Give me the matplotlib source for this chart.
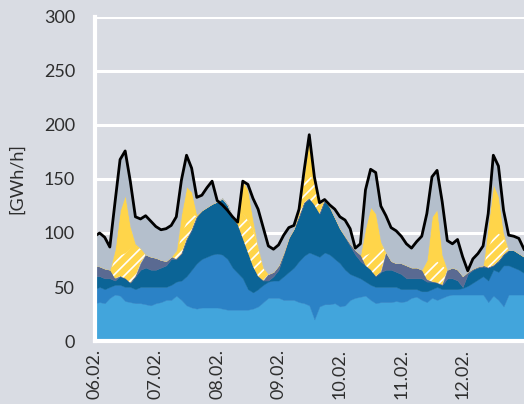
import numpy as np
import matplotlib
matplotlib.use("Agg")
import matplotlib.pyplot as plt

# hours since 06.02. 00:00, every 2 hours
hours = list(range(0, 169, 2))
day_ticks = [0, 24, 48, 72, 96, 120, 144]
day_labels = ["06.02.", "07.02.", "08.02.", "09.02.", "10.02.", "11.02.", "12.02."]

green = [1,1,1,1,1,1,1,1,1,1,1,1,1,1,1,1,1,0,0,1,1,1,0,0,1,1,1,1,0,0,
         1,1,1,1,1,1,1,1,1,1,1,1,1,1,1,1,1,1,1,1,1,1,1,0,1,1,1,1,1,1,
         1,1,1,1,1,1,1,1,1,1,0,0,0,0,0,0,1,0,0,0,0,0,0,0,0]
light_blue = [34,35,34,39,42,41,36,35,34,34,33,32,34,35,37,37,41,38,33,30,29,30,31,31,30,29,28,28,29,29,
              28,29,31,35,39,39,39,37,37,37,35,34,32,19,31,33,33,34,31,32,37,39,40,42,37,34,35,35,35,36,
              35,36,39,40,37,35,39,37,39,41,43,43,43,43,43,43,42,36,42,38,32,43,43,43,43]
mid_blue = [13,14,13,10,9,10,13,14,13,15,16,17,15,14,12,14,13,18,27,35,42,45,47,49,50,50,47,39,34,29,
            19,15,16,16,15,16,16,22,26,30,38,44,49,60,46,48,46,41,40,33,24,20,17,13,14,15,14,14,14,13,
            12,11,8,7,8,10,8,12,8,6,5,5,6,8,11,14,17,20,24,26,38,27,25,23,20]
dark_blue = [12,10,10,8,4,8,8,4,12,16,18,16,16,18,20,24,21,25,34,37,43,45,46,47,48,52,50,46,45,37,
             34,24,12,4,1,4,10,20,31,36,41,49,50,46,40,48,44,38,32,30,26,20,16,15,14,10,14,16,16,14,
             14,10,10,10,12,9,7,4,4,10,10,8,1,11,12,11,9,12,4,10,10,14,16,15,15]
slate = [10,9,9,8,2,0,0,0,0,6,12,12,11,7,4,2,0,0,0,0,0,0,0,0,0,0,0,0,0,0,
         0,0,0,0,6,4,4,2,1,0,0,0,0,0,0,0,0,0,0,1,2,4,6,0,0,0,0,16,8,8,
         10,12,10,10,8,2,0,0,0,8,10,10,10,2,1,1,1,0,0,0,0,0,0,0,0]
solar_hatched = [0,0,0,0,20,20,24,32,28,14,0,0,0,0,0,0,6,19,18,15,1,0,0,0,0,0,0,0,1,23,
                 30,34,27,12,0,0,0,0,0,0,3,22,23,22,8,0,0,0,0,0,0,0,0,10,16,26,26,0,0,0,
                 0,0,0,0,0,11,17,20,18,0,0,0,0,0,0,0,0,20,28,26,16,0,0,0,0]
solar = [0,0,0,0,7,41,53,20,2,0,0,0,0,0,0,0,2,18,31,20,1,0,0,0,0,0,0,0,1,30,
         28,9,0,0,0,0,0,0,0,0,2,5,33,2,1,0,0,0,0,0,0,0,0,25,42,32,2,0,0,0,
         0,0,0,0,0,7,43,48,10,0,0,0,0,0,0,0,0,20,47,34,4,0,0,0,0]
other = [27,31,29,21,43,47,41,42,25,27,36,33,29,28,30,29,31,31,29,22,16,14,18,21,1,0,0,1,0,0,
         5,20,35,37,26,21,19,16,9,3,2,3,3,2,1,1,2,8,11,15,14,2,10,35,35,38,33,34,31,30,
         25,20,18,24,31,43,37,36,49,27,22,28,18,1,9,12,18,10,27,28,21,14,13,14,7]
load = [97,100,96,87,128,168,176,148,115,113,116,111,106,103,104,107,115,149,172,160,133,135,142,148,130,126,121,115,110,148,
        145,132,122,105,88,85,89,98,105,107,122,158,191,152,128,131,126,122,115,112,104,86,90,140,159,156,125,116,105,102,
        97,90,86,92,97,118,152,158,129,93,90,94,78,65,76,81,88,118,172,162,121,98,97,95,85]

bg = "#d9dce3"
plt.rcParams["font.family"] = ["Lato", "DejaVu Sans"]
plt.rcParams["hatch.color"] = "white"
plt.rcParams["hatch.linewidth"] = 1.2

fig = plt.figure(figsize=(5.24, 4.04), dpi=100, facecolor=bg)
ax = fig.add_axes([94.5 / 524, 63 / 404, 1 - 94.5 / 524, 324 / 404], facecolor=bg)

x = np.array(hours)
layers = [
    (green, "#3f7f4a", None),
    (light_blue, "#42a5dc", None),
    (mid_blue, "#2b82c6", None),
    (dark_blue, "#0b6496", None),
    (slate, "#5a6a92", None),
    (solar_hatched, "#ffd54a", "///"),
    (solar, "#ffd54a", None),
    (other, "#b4bfcc", None),
]
base = np.zeros(len(x))
for vals, col, hatch in layers:
    top = base + np.array(vals, dtype=float)
    if hatch:
        ax.fill_between(x, base, top, facecolor=col, edgecolor="white", linewidth=0,
                        hatch=hatch, zorder=2)
    else:
        ax.fill_between(x, base, top, facecolor=col, edgecolor=col, linewidth=0.3, zorder=2)
    base = top

ax.plot(x, load, color="black", lw=2.0, zorder=4, solid_joinstyle="round")

ax.set_xlim(0, 168)
ax.set_ylim(0, 300)
ax.set_yticks(range(0, 301, 50))
ax.set_xticks(day_ticks)
ax.set_xticklabels(day_labels, rotation=90)
ax.tick_params(axis="both", length=0, labelsize=13, colors="#2e2e2e")
ax.tick_params(axis="y", pad=14)
ax.tick_params(axis="x", pad=6)
ax.grid(axis="y", color="white", lw=2.2, zorder=1)
ax.set_axisbelow(True)
for s in ["top", "right"]:
    ax.spines[s].set_visible(False)
for s in ["left", "bottom"]:
    ax.spines[s].set_color("white")
    ax.spines[s].set_linewidth(3)
    ax.spines[s].set_zorder(5)
ax.set_ylabel("[GWh/h]", fontsize=13, color="#2e2e2e")
ax.yaxis.set_label_coords(-0.162, 0.5)

fig.savefig("out.png", dpi=100, facecolor=bg)
